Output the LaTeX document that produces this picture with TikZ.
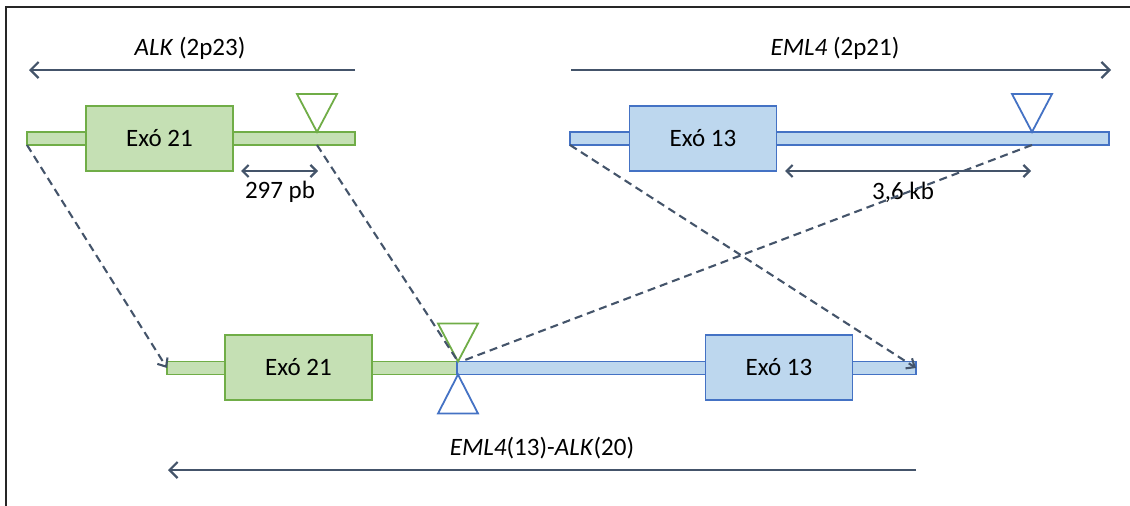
\documentclass[tikz,border=0pt]{standalone}
\usepackage{fontspec}
\setmainfont{Carlito}
\usetikzlibrary{arrows.meta}
\definecolor{gfill}{HTML}{C5E0B4}
\definecolor{gline}{HTML}{70AD47}
\definecolor{bfill}{HTML}{BDD7EE}
\definecolor{bline}{HTML}{4472C4}
\definecolor{slate}{HTML}{44546A}
\tikzset{
  gbox/.style={draw=gline, fill=gfill, line width=1.6pt, outer sep=0pt, inner sep=0pt},
  bbox/.style={draw=bline, fill=bfill, line width=1.6pt, outer sep=0pt, inner sep=0pt},
  exon/.style={minimum width=147pt, minimum height=65pt, font=\fontsize{25}{28}\selectfont},
  barshape/.style={minimum height=13pt},
  gtri/.style={draw=gline, fill=white, line width=1.8pt, line join=miter},
  btri/.style={draw=bline, fill=white, line width=1.8pt, line join=miter},
  genearrow/.style={draw=slate, line width=2.2pt, -{Straight Barb[length=8pt, width=16pt, line width=2.2pt]}},
  span/.style={draw=slate, line width=2.2pt, {Straight Barb[length=6pt, width=12pt, line width=2.2pt]}-{Straight Barb[length=6pt, width=12pt, line width=2.2pt]}},
  link/.style={draw=slate, line width=2.1pt, dash pattern=on 8pt off 5pt},
  linkarrow/.style={link, -{Straight Barb[length=7pt, width=12pt, line width=2.1pt]}},
  lbl/.style={font=\fontsize{25}{28}\selectfont, inner sep=0pt},
}
\begin{document}
\begin{tikzpicture}[x=1pt, y=-1pt]
\useasboundingbox (0,0) rectangle (1130,506);
% page frame (left and top edges)
\draw[line width=2pt, black!85] (6,506) -- (6,7) -- (1130,7);

% ---------- ALK locus ----------
\node[lbl] (alklbl) at (190,48) {\textit{ALK} (2p23)};
\coordinate (alkA) at (355,70);
\coordinate (alkB) at (29,70);
\draw[genearrow] (alkA) -- (alkB);
\node[gbox, barshape, minimum width=328pt] (alkbar) at (191,138.5) {};
\node[gbox, exon] (alkexon) at (159.5,138.5) {Exó 21};
\coordinate (alkbp) at (317,132);
\coordinate (alkbpl) at (317,145);
\draw[gtri] (alkbp) -- ++(-20,-38) -- ++(40,0) -- cycle;
\coordinate (alkdA) at (241,171);
\coordinate (alkdB) at (318,171);
\draw[span] (alkdA) -- (alkdB);
\node[lbl] (alkdist) at (280,192) {297 pb};

% ---------- EML4 locus ----------
\node[lbl] (emllbl) at (835,48) {\textit{EML4} (2p21)};
\coordinate (emlA) at (571,70);
\coordinate (emlB) at (1111,70);
\draw[genearrow] (emlA) -- (emlB);
\node[bbox, barshape, minimum width=539pt] (emlbar) at (839.5,138.5) {};
\node[bbox, exon] (emlexon) at (703,138.5) {Exó 13};
\coordinate (emlbp) at (1032,132);
\coordinate (emlbpl) at (1032,145);
\draw[btri] (emlbp) -- ++(-20,-38) -- ++(40,0) -- cycle;
\coordinate (emldA) at (785,171);
\coordinate (emldB) at (1031,171);
\draw[span] (emldA) -- (emldB);
\node[lbl] (emldist) at (903,192) {3,6 kb};

% ---------- fusion gene ----------
\node[gbox, barshape, minimum width=290pt] (fgbar) at (312,368) {};
\node[bbox, barshape, minimum width=459pt] (fbbar) at (686.5,368) {};
\node[gbox, exon] (fgexon) at (298.5,367.5) {Exó 21};
\node[bbox, exon] (fbexon) at (779,367.5) {Exó 13};
\coordinate (junc) at (458,361.5);
\coordinate (juncl) at (458,374.5);
\draw[gtri] (junc) -- ++(-20,-38) -- ++(40,0) -- cycle;
\draw[btri] (juncl) -- ++(-20,39) -- ++(40,0) -- cycle;
\node[lbl] (fuslbl) at (542,448) {\textit{EML4}(13)-\textit{ALK}(20)};
\coordinate (fusA) at (916,470);
\coordinate (fusB) at (168,470);
\draw[genearrow] (fusA) -- (fusB);

% ---------- rearrangement links ----------
\draw[linkarrow] (alkbar.south west) -- (fgbar.west);
\draw[link] (alkbpl) -- (junc);
\draw[linkarrow] (emlbar.south west) -- (fbbar.east);
\draw[link] (emlbpl) -- ([xshift=3pt]junc);
\end{tikzpicture}
\end{document}
